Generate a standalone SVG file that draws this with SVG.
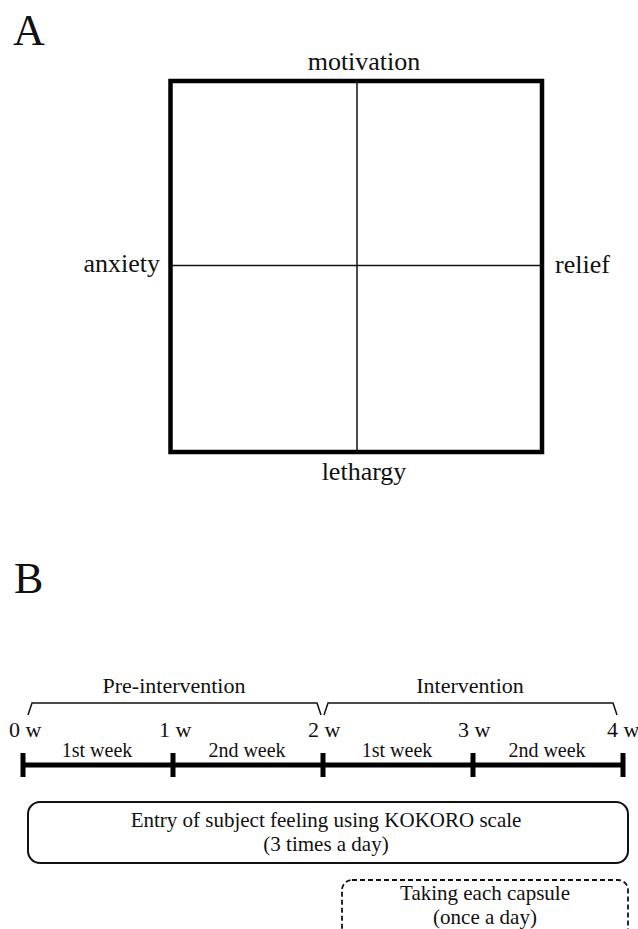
<svg xmlns="http://www.w3.org/2000/svg" width="638" height="929" viewBox="0 0 638 929">
<style>
text{font-family:"Liberation Serif","Times New Roman",serif;fill:#111;}
.panel{font-size:44px;}
.axis{font-size:26px;}
.lab{font-size:22px;}
.box-t{font-size:21px;}
.wk{font-size:20px;}
.thin{stroke:#111;stroke-width:1.5;fill:none;}
.thick{stroke:#000;stroke-width:4.5;fill:none;}
.tl{stroke:#000;stroke-width:5;fill:none;}
.box{stroke:#111;stroke-width:2;fill:none;}
.dbox{stroke:#111;stroke-width:1.8;fill:none;stroke-dasharray:5 3;}
</style>
<rect width="638" height="929" fill="#fff"/>
<g id="panelA">
<text class="panel" x="13" y="45">A</text>
<g id="grid">
<rect class="thick" x="170.5" y="81" width="371.5" height="371"/>
<line class="thin" x1="357" y1="81" x2="357" y2="452"/>
<line class="thin" x1="170.5" y1="265.5" x2="542" y2="265.5"/>
</g>
<g id="motivation"><text class="axis" x="364" y="70" text-anchor="middle">motivation</text></g>
<g id="lethargy"><text class="axis" x="364" y="480" text-anchor="middle">lethargy</text></g>
<g id="anxiety"><text class="axis" x="160" y="272" text-anchor="end">anxiety</text></g>
<g id="relief"><text class="axis" x="555" y="273">relief</text></g>
</g>
<g id="panelB">
<text class="panel" x="14" y="593">B</text>
<g id="brackets">
<path class="thin" d="M28 715 L32 703 L317 703 L321 715"/>
<path class="thin" d="M324 715 L328 703 L613 703 L617 715"/>
<text class="lab" x="174" y="693" text-anchor="middle">Pre-intervention</text>
<text class="lab" x="470" y="693" text-anchor="middle">Intervention</text>
</g>
<g id="timeline">
<line class="tl" x1="23" y1="765" x2="623" y2="765"/>
<g stroke="#000" stroke-width="5">
<line x1="23" y1="753" x2="23" y2="777"/>
<line x1="173" y1="753" x2="173" y2="777"/>
<line x1="323" y1="753" x2="323" y2="777"/>
<line x1="473" y1="753" x2="473" y2="777"/>
<line x1="623" y1="753" x2="623" y2="777"/>
</g>
<text class="lab" x="9" y="737">0 w</text>
<text class="lab" x="159" y="737">1 w</text>
<text class="lab" x="308" y="737">2 w</text>
<text class="lab" x="458" y="737">3 w</text>
<text class="lab" x="607" y="737">4 w</text>
<text class="wk" x="97" y="757" text-anchor="middle">1st week</text>
<text class="wk" x="247" y="757" text-anchor="middle">2nd week</text>
<text class="wk" x="397" y="757" text-anchor="middle">1st week</text>
<text class="wk" x="547" y="757" text-anchor="middle">2nd week</text>
</g>
<g id="entry">
<rect class="box" x="28" y="802" width="600" height="61" rx="12" ry="12"/>
<text class="box-t" x="326" y="827" text-anchor="middle">Entry of subject feeling using KOKORO scale</text>
<text class="box-t" x="326" y="851" text-anchor="middle">(3 times a day)</text>
</g>
<g id="capsule">
<rect class="dbox" x="342" y="880" width="286" height="70" rx="10" ry="10"/>
<text class="box-t" x="485" y="900" text-anchor="middle">Taking each capsule</text>
<text class="box-t" x="485" y="924" text-anchor="middle">(once a day)</text>
</g>
</g>
</svg>
